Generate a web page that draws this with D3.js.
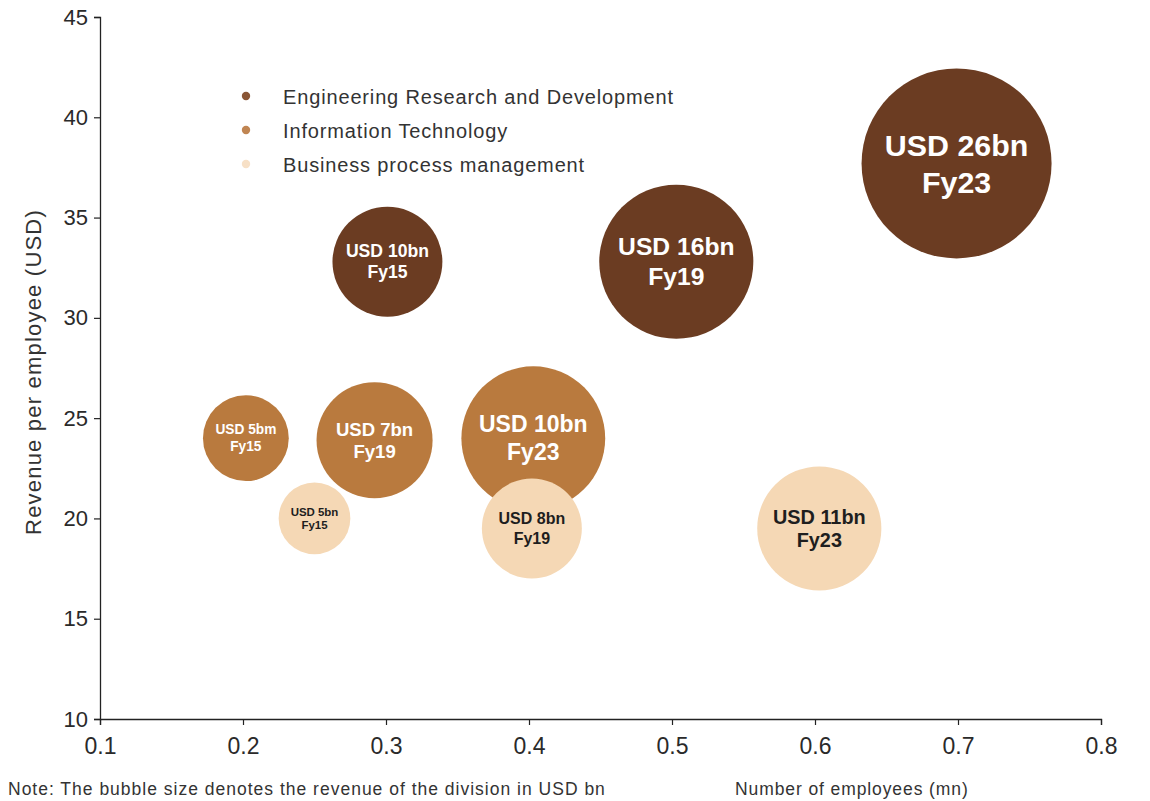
<!DOCTYPE html>
<html>
<head>
<meta charset="utf-8">
<script src="https://cdn.jsdelivr.net/npm/d3@7"></script>
<style>
  html, body { margin: 0; padding: 0; background: #fff; }
  svg { display: block; }
  text { font-family: "Liberation Sans", Arial, Helvetica, sans-serif; }
</style>
</head>
<body>
<svg id="chart" width="1150" height="801"></svg>
<script>
// ---- data ----
const segments = ["Engineering Research and Development", "Information Technology", "Business process management"];
const segmentColors = ["#6b3c22", "#b97a3e", "#f5d8b5"];
const legendDotColors = ["#8a5636", "#c08552", "#f7e0c6"];
const labelColors = ["#ffffff", "#ffffff", "#1e1e1e"];

const bubbleSegment = [0, 0, 0, 1, 1, 1, 2, 2, 2];
const fiscalYear = ["Fy15", "Fy19", "Fy23", "Fy15", "Fy19", "Fy23", "Fy15", "Fy19", "Fy23"];
const revenueLabel = ["USD 10bn", "USD 16bn", "USD 26bn", "USD 5bm", "USD 7bn", "USD 10bn", "USD 5bn", "USD 8bn", "USD 11bn"];
const employeesMn = [0.301, 0.503, 0.699, 0.202, 0.292, 0.403, 0.250, 0.402, 0.603];
const revenuePerEmployee = [32.8, 32.8, 37.7, 24.0, 23.9, 24.0, 20.0, 19.5, 19.5];
// relative bubble area as drawn in the picture (USD bn equivalent)
const bubbleArea = [8.7, 17.1, 26.0, 5.3, 9.7, 14.9, 3.7, 7.2, 11.1];

const xTicks = [0.1, 0.2, 0.3, 0.4, 0.5, 0.6, 0.7, 0.8];
const yTicks = [10, 15, 20, 25, 30, 35, 40, 45];

const xTitle = "Number of employees (mn)";
const yTitle = "Revenue per employee (USD)";
const note = "Note: The bubble size denotes the revenue of the division in USD bn";

// ---- layout ----
const svg = d3.select("#chart");
const x = d3.scaleLinear().domain([0.1, 0.8]).range([100, 1101]);
const y = d3.scaleLinear().domain([10, 45]).range([719, 17]);
const r = d3.scaleSqrt().domain([0, 26]).range([0, 95]);

const bubbles = bubbleSegment.map((s, i) => ({
  seg: s, fy: fiscalYear[i], rev: revenueLabel[i],
  x: employeesMn[i], y: revenuePerEmployee[i], a: bubbleArea[i]
}));

// bubbles
const g = svg.append("g");
const nodes = g.selectAll("g.b").data(bubbles).join("g")
  .attr("class", "b")
  .attr("transform", d => `translate(${x(d.x)},${y(d.y)})`);
nodes.append("circle")
  .attr("r", d => r(d.a))
  .attr("fill", d => segmentColors[d.seg]);
nodes.each(function(d) {
  const fs = r(d.a) * 0.32;
  const sel = d3.select(this);
  [[d.rev, -0.6], [d.fy, 0.6]].forEach(([t, off]) => {
    sel.append("text")
      .attr("text-anchor", "middle")
      .attr("dominant-baseline", "central")
      .attr("y", off * fs)
      .attr("font-size", fs)
      .attr("font-weight", "bold")
      .attr("fill", labelColors[d.seg])
      .text(t);
  });
});

// axes
const xAxis = svg.append("g")
  .attr("transform", `translate(0,${y(10)})`)
  .call(d3.axisBottom(x).tickValues(xTicks).tickSize(6).tickPadding(13).tickFormat(d3.format(".1f")));
const yAxis = svg.append("g")
  .attr("transform", `translate(${x(0.1)},0)`)
  .call(d3.axisLeft(y).tickValues(yTicks).tickSize(6).tickPadding(6));
[xAxis, yAxis].forEach(a => {
  a.select(".domain").attr("stroke", "#222").attr("stroke-width", 1.3);
  a.selectAll(".tick line").attr("stroke", "#222").attr("stroke-width", 1.2);
  a.selectAll(".tick text")
    .attr("font-family", "'Liberation Sans', Arial, sans-serif")
    .attr("fill", "#2a2a2a");
});
xAxis.selectAll(".tick text").attr("font-size", 23);
yAxis.selectAll(".tick text").attr("font-size", 22);

// legend
const legend = svg.append("g");
segments.forEach((s, i) => {
  legend.append("circle")
    .attr("cx", 246).attr("cy", 96 + i * 34).attr("r", 4.2)
    .attr("fill", legendDotColors[i]);
  legend.append("text")
    .attr("x", 283).attr("y", 97 + i * 34)
    .attr("dominant-baseline", "central")
    .attr("font-size", 20).attr("letter-spacing", 0.85).attr("fill", "#333")
    .text(s);
});

// titles
svg.append("text")
  .attr("transform", `translate(41,372) rotate(-90)`)
  .attr("text-anchor", "middle")
  .attr("font-size", 22).attr("letter-spacing", 1.2).attr("fill", "#333")
  .text(yTitle);
svg.append("text")
  .attr("x", 735).attr("y", 795)
  .attr("font-size", 17.5).attr("letter-spacing", 0.9).attr("fill", "#333")
  .text(xTitle);
svg.append("text")
  .attr("x", 8).attr("y", 795)
  .attr("font-size", 17.5).attr("letter-spacing", 1.0).attr("fill", "#333")
  .text(note);
</script>
</body>
</html>
